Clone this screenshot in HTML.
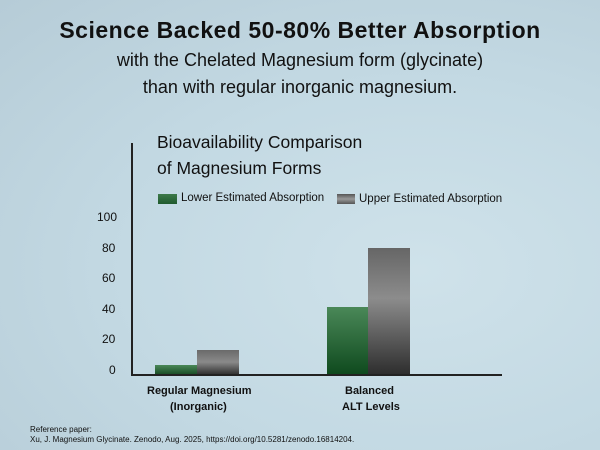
<!DOCTYPE html>
<html><head><style>
body{margin:0;width:600px;height:450px;overflow:hidden;font-family:"Liberation Sans",sans-serif;}
.bg{position:absolute;left:0;top:0;width:600px;height:450px;background:radial-gradient(ellipse at 70% 60%,#cfe2ea 0%,#c3d9e3 50%,#b6ccd7 100%);}
.t{position:absolute;white-space:nowrap;color:#111;}
</style></head><body>
<div class="bg"></div>
<div class="t" style="left:0;width:600px;text-align:center;top:17px;font-size:23px;font-weight:bold;letter-spacing:0.5px">Science Backed 50-80% Better Absorption</div>
<div class="t" style="left:0;width:600px;text-align:center;top:50px;font-size:18px">with the Chelated Magnesium form (glycinate)</div>
<div class="t" style="left:0;width:600px;text-align:center;top:77px;font-size:18px">than with regular inorganic magnesium.</div>
<div class="t" style="left:157px;top:132px;font-size:17.5px">Bioavailability Comparison</div>
<div class="t" style="left:157px;top:158px;font-size:17.5px">of Magnesium Forms</div>
<div style="position:absolute;left:158px;top:194px;width:19px;height:10px;background:linear-gradient(#3d7a4a,#1f5a2e)"></div>
<div class="t" style="left:181px;top:192px;font-size:11.5px">Lower Estimated Absorption</div>
<div style="position:absolute;left:337px;top:194px;width:18px;height:10px;background:linear-gradient(#555,#999,#555)"></div>
<div class="t" style="left:359px;top:193px;font-size:11.5px">Upper Estimated Absorption</div>
<div class="t" style="left:97px;top:210px;font-size:12px">100</div>
<div class="t" style="left:102px;top:241px;font-size:12px">80</div>
<div class="t" style="left:102px;top:271px;font-size:12px">60</div>
<div class="t" style="left:102px;top:302px;font-size:12px">40</div>
<div class="t" style="left:102px;top:332px;font-size:12px">20</div>
<div class="t" style="left:109px;top:363px;font-size:12px">0</div>
<div style="position:absolute;left:131px;top:143px;width:1.5px;height:232px;background:#222"></div>
<div style="position:absolute;left:131px;top:374px;width:371px;height:1.5px;background:#222"></div>
<div style="position:absolute;left:155px;top:365px;width:42px;height:9px;background:linear-gradient(#4a8858,#1b4f28)"></div>
<div style="position:absolute;left:197px;top:350px;width:42px;height:24px;background:linear-gradient(#6a6a6a,#8a8a8a 50%,#333)"></div>
<div style="position:absolute;left:327px;top:307px;width:41px;height:67px;background:linear-gradient(#4a8858,#0f4a1e)"></div>
<div style="position:absolute;left:368px;top:248px;width:42px;height:126px;background:linear-gradient(#666,#8c8c8c 40%,#2e2e2e)"></div>
<div class="t" style="left:147px;top:385px;font-size:11px;font-weight:bold">Regular Magnesium</div>
<div class="t" style="left:170px;top:401px;font-size:11px;font-weight:bold">(Inorganic)</div>
<div class="t" style="left:345px;top:385px;font-size:11px;font-weight:bold">Balanced</div>
<div class="t" style="left:342px;top:401px;font-size:11px;font-weight:bold">ALT Levels</div>
<div class="t" style="left:30px;top:425px;font-size:8px">Reference paper:</div>
<div class="t" style="left:30px;top:435px;font-size:8px">Xu, J. Magnesium Glycinate. Zenodo, Aug. 2025, https://doi.org/10.5281/zenodo.16814204.</div>
</body></html>
